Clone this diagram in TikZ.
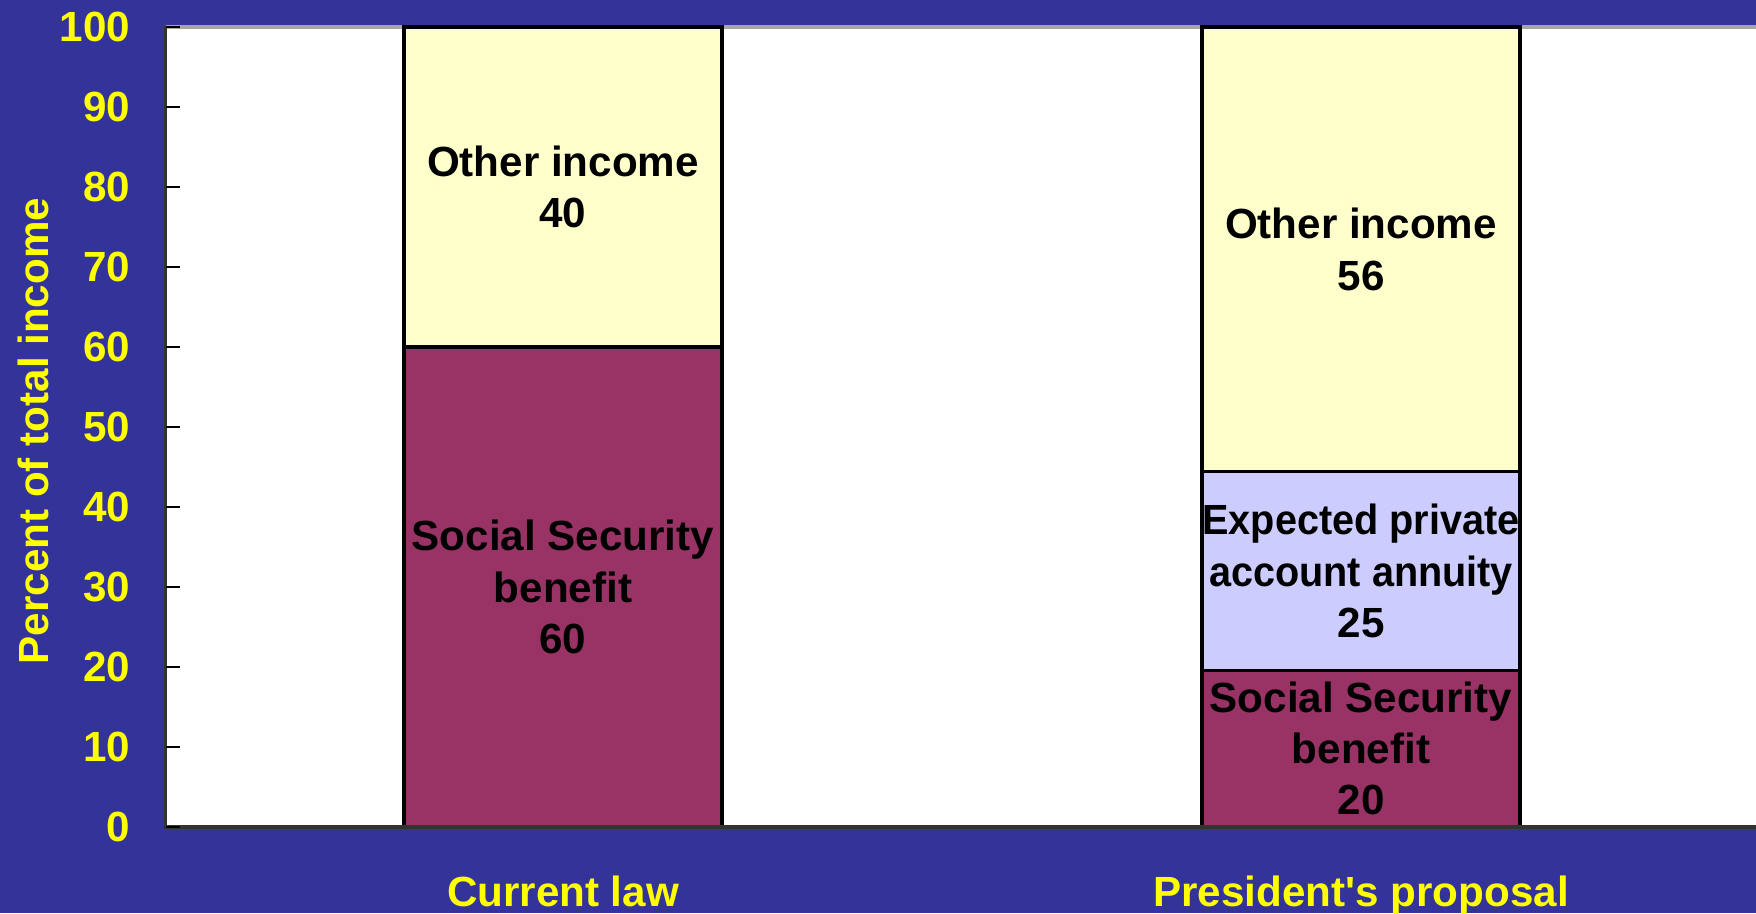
\documentclass[tikz,border=0pt]{standalone}
\usepackage{graphicx}
\usepackage{fontspec}
\setmainfont{Liberation Sans}
\definecolor{slideBlue}{HTML}{333399}
\definecolor{labelYellow}{HTML}{FFFF00}
\definecolor{ssMaroon}{HTML}{993366}
\definecolor{otherYellow}{HTML}{FFFFCC}
\definecolor{annuityBlue}{HTML}{CCCCFF}

\begin{document}
\begin{tikzpicture}[x = 0.1mm, y = 0.1mm, font = \fontsize{12}{14.6}\selectfont\bfseries]
	\tikzstyle{segmentStyle} = [draw = black, line width = 0.9pt, minimum width = 31.8mm, inner sep = 0pt, align = center]
	\tikzstyle{axisLabelStyle} = [text = labelYellow, inner sep = 0pt]
	\useasboundingbox (0,0) rectangle (1756,913);
	\fill[slideBlue] (0,0) rectangle (1756,913);
	\fill[white] (165.5,86) rectangle (1756,886);
	\draw[gray!70, line width = 1pt] (165.5,886) -- (1756,886);
	% current law
	\node[segmentStyle, fill = ssMaroon, minimum height = 48mm] (curSS) at (563,326) {Social Security\\benefit\\60};
	\node[segmentStyle, fill = otherYellow, minimum height = 32mm] (curOther) at (563,726) {Other income\\40};
	% president's proposal
	\node[segmentStyle, fill = ssMaroon, minimum height = 15.68mm] (presSS) at (1361,164.4) {Social Security\\benefit\\20};
	\node[segmentStyle, fill = annuityBlue, minimum height = 19.84mm] (presAnnuity) at (1361,342) {\scalebox{0.94}[1]{Expected private}\\\scalebox{0.94}[1]{account annuity}\\25};
	\node[segmentStyle, fill = otherYellow, minimum height = 44.48mm] (presOther) at (1361,663.6) {Other income\\56};
	% axes
	\draw[gray!40!black, line width = 1pt] (165.5,886) -- (165.5,86) -- (1756,86);
	\foreach \v in {0,10,...,100}
	{
		\draw[black, line width = 0.6pt] (165.5,86+8*\v) -- (179.5,86+8*\v);
		\node[axisLabelStyle, anchor = east] (tick\v) at (131,86+8*\v) {\v};
	}
	\node[axisLabelStyle, rotate = 90] (yTitle) at (33.6,482) {Percent of total income};
	\node[axisLabelStyle, anchor = base] (curLabel) at (563,7) {Current law};
	\node[axisLabelStyle, anchor = base] (presLabel) at (1361,7) {President\textquotesingle s proposal};
\end{tikzpicture}
\end{document}
